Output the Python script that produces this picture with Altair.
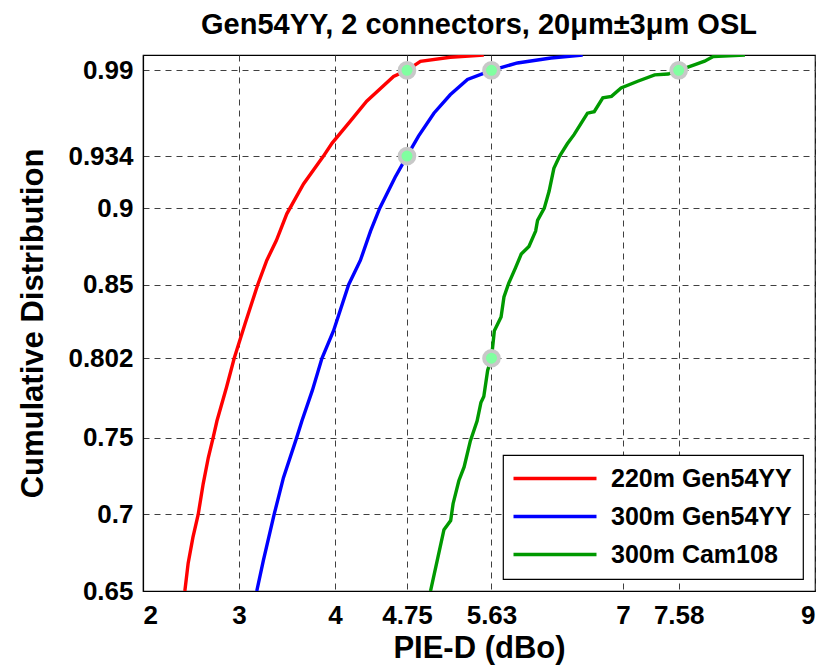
import altair as alt
import pandas as pd

# Series names and colours (legend order)
series_names = ["220m Gen54YY", "300m Gen54YY", "300m Cam108"]
series_colors = ["#ff0000", "#0000ff", "#009900"]

# 220m Gen54YY: PIE-D (dBo) and cumulative probability
pie_220_gen = [2.436, 2.47, 2.52, 2.575, 2.627, 2.68, 2.73, 2.77, 2.87, 2.95, 3.063,
               3.195, 3.29, 3.39, 3.498, 3.672, 3.88, 3.97, 4.16, 4.33, 4.61, 4.75,
               4.89, 5.20, 5.55]
cdf_220_gen = [0.65, 0.668, 0.685, 0.70, 0.720, 0.737, 0.75, 0.761, 0.783, 0.802, 0.8245,
               0.85, 0.866, 0.879, 0.8963, 0.9158, 0.934, 0.9425, 0.9568, 0.9698, 0.986, 0.99,
               0.9959, 0.9985, 1.0]

# 300m Gen54YY
pie_300_gen = [3.185, 3.254, 3.366, 3.463, 3.60, 3.655, 3.764, 3.864, 3.985, 4.142,
               4.265, 4.37, 4.466, 4.625, 4.75, 4.87, 5.03, 5.20, 5.38, 5.63, 5.90,
               6.25, 6.58]
cdf_300_gen = [0.65, 0.670, 0.70, 0.724, 0.75, 0.761, 0.781, 0.802, 0.820, 0.85,
               0.866, 0.885, 0.90, 0.920, 0.934, 0.947, 0.962, 0.974, 0.984, 0.99, 0.9948,
               0.998, 1.0]

# 300m Cam108
pie_300_cam = [4.995, 5.065, 5.135, 5.205, 5.23, 5.29, 5.345, 5.41, 5.48, 5.52, 5.55,
               5.59, 5.63, 5.66, 5.73, 5.76, 5.81, 5.88, 5.94, 6.02, 6.09, 6.11, 6.18,
               6.23, 6.28, 6.34, 6.42, 6.49, 6.56, 6.63, 6.70, 6.79, 6.88, 6.98, 7.16,
               7.33, 7.47, 7.58, 7.75, 7.85, 7.94, 8.27]
cdf_300_cam = [0.65, 0.670, 0.690, 0.696, 0.707, 0.722, 0.731, 0.748, 0.761, 0.773, 0.777,
               0.794, 0.802, 0.820, 0.829, 0.842, 0.851, 0.861, 0.870, 0.875, 0.885, 0.892,
               0.900, 0.911, 0.926, 0.934, 0.942, 0.948, 0.955, 0.962, 0.963, 0.972, 0.973,
               0.9785, 0.983, 0.987, 0.9876, 0.99, 0.9937, 0.996, 0.999, 1.0]

# Highlighted operating points
marker_x = [4.75, 5.63, 7.58, 4.75, 5.63]
marker_y = [0.99, 0.99, 0.99, 0.934, 0.802]

# Axis tick values
x_ticks = [2, 3, 4, 4.75, 5.63, 7, 7.58, 9]
y_ticks = [0.65, 0.7, 0.75, 0.802, 0.85, 0.9, 0.934, 0.99]

FONT = "Liberation Sans"

frames = []
for name, xs, ys in [
    (series_names[0], pie_220_gen, cdf_220_gen),
    (series_names[1], pie_300_gen, cdf_300_gen),
    (series_names[2], pie_300_cam, cdf_300_cam),
]:
    frames.append(pd.DataFrame({"series": name, "pie": xs, "cdf": ys, "idx": range(len(xs))}))
curves = pd.concat(frames, ignore_index=True)
markers = pd.DataFrame({"pie": marker_x, "cdf": marker_y})

grid_props = dict(grid=True, gridDash=[6, 5], gridColor="#404040", gridWidth=1, gridOpacity=1)

x_enc = alt.X(
    "pie:Q",
    scale=alt.Scale(domain=[2, 9], nice=False, zero=False),
    axis=alt.Axis(values=x_ticks, format=".4~g", title="PIE-D (dBo)", labelPadding=11,
                  titlePadding=5, **grid_props),
)
y_enc = alt.Y(
    "cdf:Q",
    scale=alt.Scale(domain=[0.65, 1.0], nice=False, zero=False),
    axis=alt.Axis(values=y_ticks, format=".4~g", title="Cumulative Distribution",
                  labelPadding=10, titlePadding=18, **grid_props),
)

lines = alt.Chart(curves).mark_line(strokeWidth=3.4, clip=True).encode(
    x=x_enc,
    y=y_enc,
    color=alt.Color(
        "series:N",
        scale=alt.Scale(domain=series_names, range=series_colors),
        legend=alt.Legend(title=None),
    ),
    order="idx:Q",
)

points = alt.Chart(markers).mark_point(
    shape="circle", filled=True, size=220, fill="#80ffa0", stroke="#c8c8c8",
    strokeWidth=3.8, opacity=1,
).encode(x="pie:Q", y="cdf:Q")

chart = (
    alt.layer(lines, points)
    .properties(
        width=672,
        height=536,
        autosize=alt.AutoSizeParams(type="none"),
        padding={"left": 143, "top": 55, "right": 23, "bottom": 76},
        title=alt.TitleParams(
            "Gen54YY, 2 connectors, 20\u03bcm\u00b13\u03bcm OSL",
            font=FONT, fontSize=29, fontWeight="bold", color="black",
            anchor="middle", offset=15,
        ),
        background="white",
    )
    .configure_view(stroke="black", strokeWidth=1.2)
    .configure_axis(
        labelFont=FONT, labelFontSize=26, labelFontWeight="bold", labelColor="black",
        titleFont=FONT, titleFontSize=31, titleFontWeight="bold", titleColor="black",
        domainColor="black", domainWidth=1.2, ticks=False, labelOverlap=False,
    )
    .configure_legend(
        orient="bottom-right", offset=12, strokeColor="black", fillColor="white",
        padding=11, symbolType="M-1.3,0H7.0", symbolSize=400, symbolStrokeWidth=3.6,
        labelFont=FONT, labelFontSize=25, labelFontWeight="bold", labelColor="black",
        labelLimit=400, rowPadding=12, labelOffset=72, cornerRadius=0, strokeWidth=1.2,
    )
)

chart.save("out.html", embed_options={"renderer": "svg", "actions": False})
